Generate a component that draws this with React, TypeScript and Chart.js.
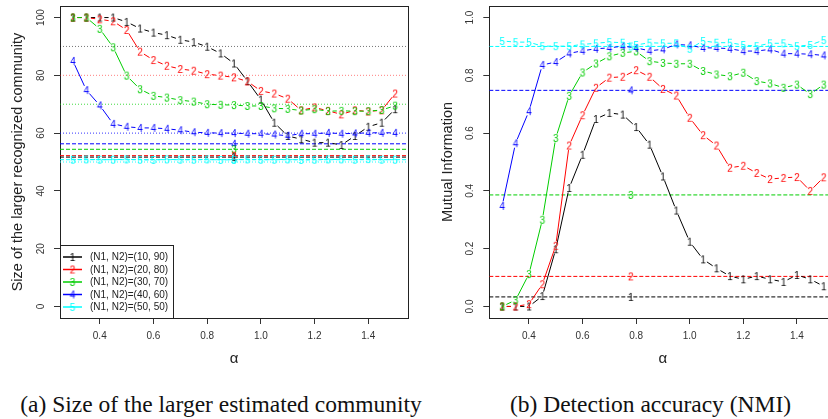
import React, { useEffect, useRef } from "react";
import { Chart, registerables } from "chart.js";

Chart.register(...registerables);

// ---------------- data ----------------
const alphaValues = [0.3, 0.35, 0.4, 0.45, 0.5, 0.55, 0.6, 0.65, 0.7, 0.75, 0.8, 0.85, 0.9, 0.95, 1.0, 1.05, 1.1, 1.15, 1.2, 1.25, 1.3, 1.35, 1.4, 1.45, 1.5];

// (a) size of the larger estimated community
const sizeN10 = [100, 100, 100, 100, 98.5, 96.2, 94.8, 93.9, 92.3, 91.5, 89.9, 87.6, 84.1, 78.0, 71.6, 63.6, 59.0, 57.9, 56.7, 56.7, 55.9, 59.0, 62.2, 63.6, 68.3];
const sizeN20 = [100, 100, 99.4, 98.7, 95.7, 88.2, 85.3, 83.3, 82.2, 81.6, 80.4, 79.9, 79.3, 77.9, 74.6, 73.7, 71.9, 67.9, 68.9, 67.7, 66.5, 67.9, 67.5, 67.9, 73.7];
const sizeN30 = [100, 100, 96.1, 89.7, 79.9, 75.2, 72.9, 72.3, 71.4, 70.9, 70.0, 69.8, 69.7, 69.4, 69.4, 68.6, 68.4, 67.8, 68.3, 67.6, 67.7, 67.6, 67.6, 68.0, 69.5];
const sizeN40 = [85.0, 74.9, 69.6, 63.2, 62.2, 61.8, 61.8, 61.5, 61.0, 60.3, 60.1, 60.0, 60.0, 59.8, 59.8, 59.5, 59.1, 59.8, 59.8, 60.1, 59.8, 59.9, 60.1, 60.1, 60.1];
const sizeN50 = [50.8, 50.9, 50.8, 50.8, 50.9, 50.8, 50.7, 50.9, 50.8, 50.8, 50.9, 50.7, 50.8, 50.9, 50.8, 50.8, 50.9, 50.7, 50.8, 50.9, 50.9, 50.8, 51.0, 50.8, 50.8];
const sizeTrueValues = [90, 80, 70, 60, 50];
const sizeBaselineValues = [51.7, 52.2, 54.4, 56.3, 50.8];

// (b) detection accuracy (NMI)
const nmiN10 = [0, 0, 0, 0.036, 0.198, 0.41, 0.525, 0.649, 0.67, 0.664, 0.621, 0.56, 0.45, 0.332, 0.224, 0.163, 0.132, 0.105, 0.094, 0.105, 0.094, 0.085, 0.109, 0.094, 0.07];
const nmiN20 = [0, 0, 0.008, 0.077, 0.21, 0.557, 0.662, 0.757, 0.792, 0.795, 0.818, 0.795, 0.753, 0.73, 0.653, 0.593, 0.557, 0.48, 0.487, 0.462, 0.441, 0.445, 0.448, 0.4, 0.447];
const nmiN30 = [0, 0.022, 0.112, 0.3, 0.583, 0.729, 0.81, 0.841, 0.866, 0.878, 0.883, 0.849, 0.843, 0.84, 0.84, 0.815, 0.803, 0.797, 0.809, 0.78, 0.772, 0.757, 0.768, 0.735, 0.768];
const nmiN40 = [0.348, 0.565, 0.676, 0.836, 0.846, 0.876, 0.885, 0.892, 0.895, 0.901, 0.895, 0.885, 0.89, 0.907, 0.904, 0.895, 0.895, 0.892, 0.884, 0.884, 0.89, 0.875, 0.875, 0.873, 0.869];
const nmiN50 = [0.919, 0.915, 0.915, 0.901, 0.901, 0.901, 0.907, 0.911, 0.915, 0.913, 0.905, 0.913, 0.911, 0.911, 0.892, 0.919, 0.913, 0.913, 0.905, 0.901, 0.911, 0.911, 0.901, 0.905, 0.922];
const nmiBaselineValues = [0.033, 0.104, 0.386, 0.748, 0.9];

const seriesDigits = ["1", "2", "3", "4", "5"];
const seriesColors = ["#000000", "#FF0000", "#00CD00", "#0000FF", "#00FFFF"];
const dottedColors = ["rgba(0,0,0,0.55)", "rgba(255,0,0,0.5)", "rgba(0,205,0,0.75)", "rgba(0,0,255,0.8)", "rgba(0,255,255,0.9)"];
const legendLabels = ["(N1, N2)=(10, 90)", "(N1, N2)=(20, 80)", "(N1, N2)=(30, 70)", "(N1, N2)=(40, 60)", "(N1, N2)=(50, 50)"];

const alphaTicks = [0.4, 0.6, 0.8, 1.0, 1.2, 1.4];
const sizeTicks = [0, 20, 40, 60, 80, 100];
const nmiTicks = [0, 0.2, 0.4, 0.6, 0.8, 1.0];

const X_MIN = 0.252;
const X_MAX = 1.548;

const SANS = '"Liberation Sans", Arial, Helvetica, sans-serif';
const SERIF = '"Liberation Serif", "Times New Roman", serif';
const H = 380;
const GAP = 4.6;

// ---------------- helpers ----------------
const digitCache = new Map<string, HTMLCanvasElement>();
function digitImage(d: string, color: string): HTMLCanvasElement {
  const key = d + color;
  const hit = digitCache.get(key);
  if (hit) return hit;
  const c = document.createElement("canvas");
  c.width = 10;
  c.height = 12;
  const g = c.getContext("2d")!;
  g.font = `10px ${SANS}`;
  g.fillStyle = color;
  g.textAlign = "center";
  g.textBaseline = "alphabetic";
  g.fillText(d, 5, 6 + 3.6);
  digitCache.set(key, c);
  return c;
}

const gapLinePlugin = {
  id: "gapLines",
  beforeDatasetDraw(chart: any, args: any) {
    const ds = chart.data.datasets[args.index];
    if (!ds.gapLine) return;
    const pts = args.meta.data;
    const ctx = chart.ctx;
    const a = chart.chartArea;
    ctx.save();
    ctx.beginPath();
    ctx.rect(a.left, a.top, a.right - a.left, a.bottom - a.top);
    ctx.clip();
    ctx.strokeStyle = ds.borderColor;
    ctx.lineWidth = 1;
    ctx.beginPath();
    for (let i = 0; i < pts.length - 1; i++) {
      const p = pts[i];
      const q = pts[i + 1];
      const dx = q.x - p.x;
      const dy = q.y - p.y;
      const d = Math.hypot(dx, dy);
      if (d <= 2 * GAP) continue;
      const ux = dx / d;
      const uy = dy / d;
      ctx.moveTo(p.x + ux * GAP, p.y + uy * GAP);
      ctx.lineTo(q.x - ux * GAP, q.y - uy * GAP);
    }
    ctx.stroke();
    ctx.restore();
  },
};

const framePlugin = {
  id: "frame",
  beforeDatasetsDraw(chart: any) {
    const { ctx, chartArea: a } = chart;
    ctx.save();
    ctx.strokeStyle = "#222";
    ctx.lineWidth = 1;
    ctx.strokeRect(Math.round(a.left) + 0.5, Math.round(a.top) + 0.5, Math.round(a.right - a.left), Math.round(a.bottom - a.top));
    ctx.restore();
  },
};

function yLabelPlugin(centerX: number, fmt: (v: number) => string) {
  return {
    id: "yLabels",
    afterDraw(chart: any) {
      const s = chart.scales.y;
      const ctx = chart.ctx;
      ctx.save();
      ctx.fillStyle = "#333";
      ctx.font = `10px ${SANS}`;
      ctx.textAlign = "center";
      ctx.textBaseline = "middle";
      s.ticks.forEach((t: any) => {
        const y = s.getPixelForValue(t.value);
        ctx.save();
        ctx.translate(centerX, y);
        ctx.rotate(-Math.PI / 2);
        ctx.fillText(fmt(t.value), 0, 0);
        ctx.restore();
      });
      ctx.restore();
    },
  };
}

const legendPlugin = {
  id: "boxLegend",
  afterDraw(chart: any) {
    const { ctx, chartArea: a } = chart;
    const items = chart.data.datasets.filter((d: any) => d.gapLine);
    const w = 113;
    const h = 73;
    const x0 = Math.round(a.left);
    const y0 = Math.round(a.bottom) - h;
    ctx.save();
    ctx.fillStyle = "#fff";
    ctx.fillRect(x0, y0, w, h);
    ctx.strokeStyle = "#222";
    ctx.lineWidth = 1;
    ctx.strokeRect(x0 + 0.5, y0 + 0.5, w, h);
    items.forEach((d: any, i: number) => {
      const y = y0 + 12 + i * 12.5;
      ctx.strokeStyle = d.borderColor;
      ctx.lineWidth = 1.5;
      ctx.beginPath();
      ctx.moveTo(x0 + 3, y);
      ctx.lineTo(x0 + 22, y);
      ctx.stroke();
      const img = d.pointStyle as HTMLCanvasElement;
      ctx.drawImage(img, x0 + 12.5 - img.width / 2, y - img.height / 2);
      ctx.fillStyle = "#222";
      ctx.font = `10px ${SANS}`;
      ctx.textAlign = "left";
      ctx.textBaseline = "middle";
      ctx.fillText(d.label, x0 + 30, y + 0.5);
    });
    ctx.restore();
  },
};

interface PanelSpec {
  series: number[][];
  yMin: number;
  yMax: number;
  yTicks: number[];
  yFmt: (v: number) => string;
  yTitle: string;
  dotted: number[] | null;
  dashed: number[];
  labelX: number;
  plotLeft: number;
  plotRight: number;
  canvasW: number;
  tickLabelX: number;
  titleX: number;
  legend: boolean;
}

function makeConfig(p: PanelSpec): any {
  const seriesSets = p.series.map((vals, i) => ({
    type: "line",
    label: legendLabels[i],
    data: alphaValues.map((x, k) => ({ x, y: vals[k] })),
    showLine: false,
    pointStyle: digitImage(seriesDigits[i], seriesColors[i]),
    pointRadius: 4,
    pointHoverRadius: 4,
    borderColor: seriesColors[i],
    backgroundColor: seriesColors[i],
    order: -i,
    gapLine: true,
  }));
  const dottedSets = (p.dotted || []).map((v, i) => ({
    type: "line",
    label: "true" + i,
    data: [{ x: X_MIN, y: v }, { x: X_MAX, y: v }],
    borderColor: dottedColors[i],
    borderWidth: 1,
    borderDash: [1, 2],
    pointRadius: 0,
    order: 10,
  }));
  const dashedSets = p.dashed.map((v, i) => ({
    type: "line",
    label: "base" + i,
    data: [{ x: X_MIN, y: v }, { x: p.labelX, y: v }, { x: X_MAX, y: v }],
    borderColor: seriesColors[i],
    borderWidth: 1,
    borderDash: [4, 2],
    pointStyle: digitImage(seriesDigits[i], seriesColors[i]),
    pointRadius: (c: any) => (c.dataIndex === 1 ? 4 : 0),
    order: 10,
  }));
  const plugins: any[] = [gapLinePlugin, framePlugin, yLabelPlugin(p.tickLabelX, p.yFmt)];
  if (p.legend) plugins.push(legendPlugin);
  return {
    type: "line",
    data: { datasets: [...seriesSets, ...dottedSets, ...dashedSets] },
    plugins,
    options: {
      responsive: false,
      animation: false,
      devicePixelRatio: 1,
      layout: { padding: { left: 0, right: p.canvasW - p.plotRight, top: 6, bottom: 0 } },
      plugins: { legend: { display: false }, tooltip: { enabled: false } },
      scales: {
        x: {
          type: "linear",
          min: X_MIN,
          max: X_MAX,
          afterBuildTicks: (s: any) => {
            s.ticks = alphaTicks.map((v) => ({ value: v }));
          },
          afterFit: (s: any) => {
            s.height = H - 318;
          },
          ticks: {
            callback: (v: any) => Number(v).toFixed(1),
            font: { family: SANS, size: 10 },
            color: "#333",
            padding: 6.7,
            maxRotation: 0,
            autoSkip: false,
          },
          grid: { drawOnChartArea: false, drawTicks: true, tickLength: 6, color: "#333", lineWidth: 1 },
          border: { display: false },
          title: {
            display: true,
            text: "α",
            font: { family: SANS, size: 15 },
            color: "#222",
            padding: { top: 0, bottom: 11.7 },
          },
        },
        y: {
          type: "linear",
          min: p.yMin,
          max: p.yMax,
          afterBuildTicks: (s: any) => {
            s.ticks = p.yTicks.map((v) => ({ value: v }));
          },
          afterFit: (s: any) => {
            s.width = p.plotLeft;
          },
          ticks: { display: false },
          grid: { drawOnChartArea: false, drawTicks: true, tickLength: 6, color: "#333", lineWidth: 1 },
          border: { display: false },
          title: {
            display: true,
            text: p.yTitle,
            font: { family: SANS, size: 14.5 },
            color: "#222",
            padding: { top: p.titleX - 8.7, bottom: 0 },
          },
        },
      },
    },
  };
}

const sizePanel: PanelSpec = {
  series: [sizeN10, sizeN20, sizeN30, sizeN40, sizeN50],
  yMin: -4,
  yMax: 104,
  yTicks: sizeTicks,
  yFmt: (v) => String(Math.round(v)),
  yTitle: "Size of the larger recognized community",
  dotted: sizeTrueValues,
  dashed: sizeBaselineValues,
  labelX: 0.9,
  plotLeft: 60,
  plotRight: 408,
  canvasW: 414,
  tickLabelX: 41.7,
  titleX: 17.5,
  legend: true,
};

const nmiPanel: PanelSpec = {
  series: [nmiN10, nmiN20, nmiN30, nmiN40, nmiN50],
  yMin: -0.04,
  yMax: 1.04,
  yTicks: nmiTicks,
  yFmt: (v) => v.toFixed(1),
  yTitle: "Mutual Information",
  dotted: null,
  dashed: nmiBaselineValues,
  labelX: 0.78,
  plotLeft: 75.3,
  plotRight: 422.5,
  canvasW: 430,
  tickLabelX: 56.7,
  titleX: 33.5,
  legend: false,
};

function Panel({ spec, left }: { spec: PanelSpec; left: number }) {
  const ref = useRef<HTMLCanvasElement>(null);
  useEffect(() => {
    const chart = new Chart(ref.current as HTMLCanvasElement, makeConfig(spec));
    return () => chart.destroy();
  }, []);
  return (
    <canvas
      ref={ref}
      width={spec.canvasW}
      height={H}
      style={{ position: "absolute", left, top: 0, width: spec.canvasW, height: H, display: "block" }}
    />
  );
}

const captionStyle = (center: number): React.CSSProperties => ({
  position: "absolute",
  left: center - 250,
  width: 500,
  top: 393.3,
  textAlign: "center",
  fontFamily: SERIF,
  fontSize: 23.5,
  lineHeight: "23.5px",
  color: "#111",
  whiteSpace: "nowrap",
});

export default function App() {
  return (
    <div style={{ position: "fixed", left: 0, top: 0, width: 828, height: 419, overflow: "hidden", background: "#fff" }}>
      <Panel spec={sizePanel} left={0} />
      <Panel spec={nmiPanel} left={414} />
      <div style={captionStyle(221)}>(a) Size of the larger estimated community</div>
      <div style={captionStyle(650.5)}>(b) Detection accuracy (NMI)</div>
    </div>
  );
}
